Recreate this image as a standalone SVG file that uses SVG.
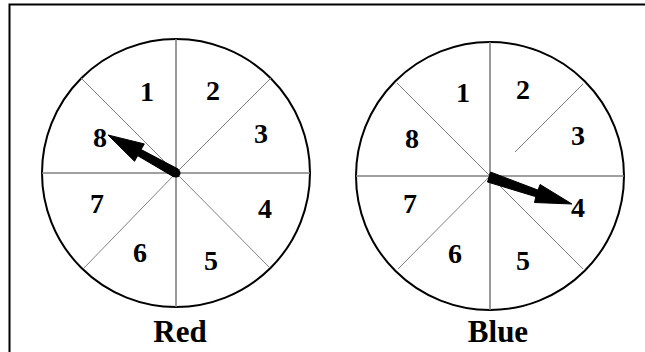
<svg xmlns="http://www.w3.org/2000/svg" width="645" height="352" viewBox="0 0 645 352">
<style>
.rim{fill:#fff;stroke:#000;stroke-width:2}
.axis{stroke:#808080;stroke-width:1.6;fill:none}
.diag{stroke:#808080;stroke-width:1;fill:none}
.num{font-family:"Liberation Serif","Times New Roman",serif;font-weight:bold;font-size:28px;fill:#000;text-anchor:middle}
.lbl{font-family:"Liberation Serif","Times New Roman",serif;font-weight:bold;font-size:31px;fill:#000;text-anchor:middle}
.ptr{fill:#000;stroke:#000;stroke-width:1;stroke-linejoin:round}
</style>
<rect width="645" height="352" fill="#fff"/>
<path d="M9.5,352 V4.5 H645" fill="none" stroke="#000" stroke-width="2"/>
<g id="spinner-red">
<circle class="rim" cx="176" cy="173" r="134"/>
<line class="axis" x1="176" y1="39" x2="176" y2="307"/>
<line class="axis" x1="42" y1="173" x2="310" y2="173"/>
<line class="diag" x1="81" y1="78" x2="176" y2="173"/>
<line class="diag" x1="271" y1="78" x2="176" y2="173"/>
<line class="diag" x1="84" y1="268" x2="176" y2="173"/>
<line class="diag" x1="270" y1="268" x2="176" y2="173"/>
<text class="num" x="147" y="101">1</text>
<text class="num" x="213" y="100">2</text>
<text class="num" x="261" y="143">3</text>
<text class="num" x="265" y="218">4</text>
<text class="num" x="211" y="270">5</text>
<text class="num" x="140" y="262">6</text>
<text class="num" x="97" y="213">7</text>
<text class="num" x="100" y="147">8</text>
<polygon class="ptr" points="178.2,169.1 141.1,149.5 144.3,143.9 108,135 134.5,161.3 137.7,155.7 173.8,176.9"/>
<circle cx="176" cy="173" r="4.5" fill="#000"/>
<text class="lbl" x="180" y="342">Red</text>
</g>
<g id="spinner-blue">
<circle class="rim" cx="490" cy="176" r="134"/>
<line class="axis" x1="490" y1="42" x2="490" y2="310"/>
<line class="axis" x1="356" y1="176" x2="624" y2="176"/>
<line class="diag" x1="397" y1="83" x2="490" y2="176"/>
<line class="diag" x1="583" y1="84" x2="515" y2="152"/>
<line class="diag" x1="398" y1="269" x2="490" y2="176"/>
<line class="diag" x1="583" y1="269" x2="490" y2="176"/>
<text class="num" x="463" y="102">1</text>
<text class="num" x="523" y="99">2</text>
<text class="num" x="578" y="145">3</text>
<text class="num" x="578" y="217">4</text>
<text class="num" x="523" y="270">5</text>
<text class="num" x="455" y="263">6</text>
<text class="num" x="410" y="213">7</text>
<text class="num" x="412" y="148">8</text>
<polygon class="ptr" points="487.5,182 535.8,196.7 534.5,202.5 572,204 540.1,184.5 538.0,190.1 490.5,172"/>
<text class="lbl" x="498" y="342">Blue</text>
</g>
</svg>
